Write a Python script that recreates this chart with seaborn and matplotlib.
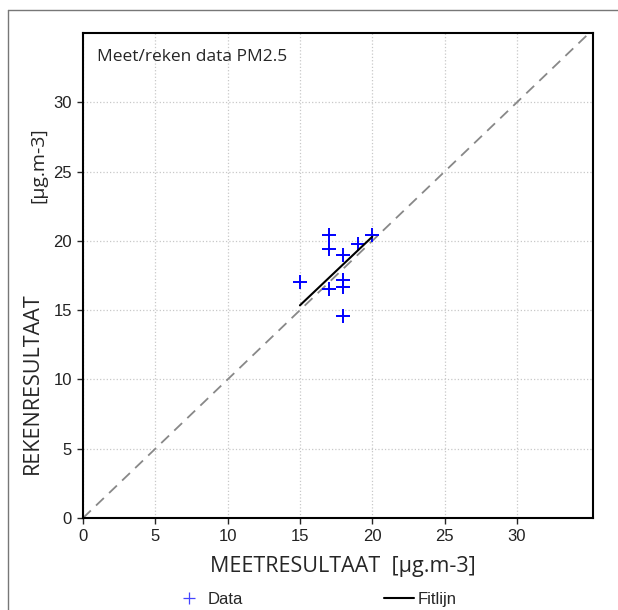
import matplotlib
matplotlib.use("Agg")
import matplotlib.pyplot as plt
from matplotlib.lines import Line2D
import seaborn as sns
import pandas as pd

# measured vs calculated PM2.5 values
meet = [15, 17, 17, 17, 18, 18, 18, 18, 19, 20]
reken = [17.0, 20.4, 19.4, 16.5, 19.0, 17.2, 16.7, 14.6, 19.8, 20.4]

# fit line end points
fit_x = [15, 20]
fit_y = [15.35, 20.3]

# 1:1 line
diag = [0, 35]

ticks = [0, 5, 10, 15, 20, 25, 30]

sns.set_style("white")
plt.rcParams["font.family"] = ["Liberation Sans", "DejaVu Sans"]

fig = plt.figure(figsize=(6.18, 6.10), dpi=100)
ax = fig.add_axes([0.1343, 0.1508, 0.825, 0.795])

df = pd.DataFrame({"meet": meet, "reken": reken})
fit_df = pd.DataFrame({"x": fit_x, "y": fit_y})

ax.plot(diag, diag, color="#888888", linestyle=(0, (6, 4)), linewidth=1.3, zorder=2)

sns.scatterplot(
    data=df,
    x="meet",
    y="reken",
    marker="+",
    s=115,
    color="#0000ff",
    linewidth=1.4,
    ax=ax,
    zorder=3
)

sns.lineplot(
    data=fit_df,
    x="x",
    y="y",
    color="black",
    linewidth=1.5,
    ax=ax,
    zorder=4
)

ax.set_xlim(0, 35.25)
ax.set_ylim(0, 35)
ax.set_xticks(ticks)
ax.set_yticks(ticks)
ax.grid(True, color="#c8c8c8", linestyle=":", linewidth=0.9)
ax.tick_params(direction="out", length=4, width=1, labelsize=12, pad=4,
               bottom=True, left=True, labelcolor="#222222")

for side in ["left", "bottom", "top", "right"]:
    ax.spines[side].set_color("black")
    ax.spines[side].set_linewidth(1.5)
    ax.spines[side].set_visible(True)

ax.set_xlabel("")
ax.set_ylabel("")

fig.text(0.555, 0.072, "MEETRESULTAAT  [\u00b5g.m-3]", ha="center", va="center",
         fontsize=15.5, family=["Open Sans", "DejaVu Sans"])
fig.text(0.052, 0.372, "REKENRESULTAAT", ha="center", va="center",
         rotation=90, fontsize=15.5, family=["Open Sans", "DejaVu Sans"])
fig.text(0.062, 0.73, "[\u00b5g.m-3]", ha="center", va="center",
         rotation=90, fontsize=14, family=["Open Sans", "DejaVu Sans"])

ax.text(0.027, 0.95, "Meet/reken data PM2.5", transform=ax.transAxes,
        ha="left", va="center", fontsize=12.5, family=["Open Sans", "DejaVu Sans"])

handles = [
    Line2D([], [], marker="+", color="#4444ff", linestyle="none",
           markersize=9, markeredgewidth=0.9),
    Line2D([], [], color="black", linewidth=1.5),
]
fig.legend(handles, ["Data", "Fitlijn"], loc="center", ncol=2,
           bbox_to_anchor=(0.51, 0.017), frameon=False, fontsize=12,
           columnspacing=8.5, handlelength=1.8, handletextpad=0.2)

# outer frame (left and top edge)
fig.add_artist(Line2D([0.013, 0.013], [0.0, 0.984], color="#777777", linewidth=1))
fig.add_artist(Line2D([0.013, 1.0], [0.984, 0.984], color="#777777", linewidth=1))

fig.savefig("out.png", dpi=100)
plt.close(fig)
